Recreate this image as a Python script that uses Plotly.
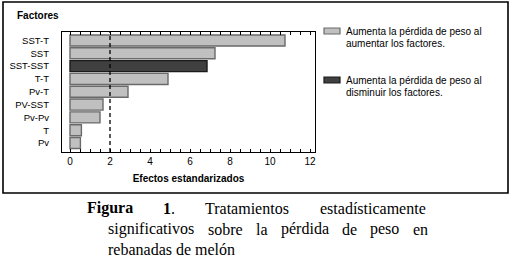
import plotly.graph_objects as go

# ---- data ----
factores = ["SST-T", "SST", "SST-SST", "T-T", "Pv-T", "PV-SST", "Pv-Pv", "T", "Pv"]
efectos = [10.75, 7.25, 6.85, 4.9, 2.9, 1.65, 1.5, 0.57, 0.52]
signo = ["+", "+", "-", "+", "+", "+", "+", "+", "+"]
valor_critico = 2.0
x_ticks = [0, 2, 4, 6, 8, 10, 12]
leyenda_pos = ["Aumenta la pérdida de peso al", "aumentar los factores."]
leyenda_neg = ["Aumenta la pérdida de peso al", "disminuir los factores."]

# ---- layout helpers (pixel positions) ----
W, H = 513, 262
L, R, T, B = 62, 315, 32, 152
PW, PH = R - L, B - T


def px(x):
    return (x - L) / PW


def py(y):
    return (B - y) / PH


LIGHT = "#c0c0c0"
LIGHT_EDGE = "#6a6a6a"
DARK = "#404040"
DARK_EDGE = "#1a1a1a"

fill = [LIGHT if s == "+" else DARK for s in signo]
edge = [LIGHT_EDGE if s == "+" else DARK_EDGE for s in signo]

fig = go.Figure()
fig.add_trace(go.Bar(
    x=efectos, y=factores, orientation="h",
    marker=dict(color=fill, line=dict(color=edge, width=1.4)),
    width=0.86, showlegend=False, hoverinfo="x+y",
))

shapes = []
annotations = []

# critical value dashed line
shapes.append(dict(type="line", xref="x", yref="paper", x0=valor_critico, x1=valor_critico,
                   y0=0, y1=1, line=dict(color="black", width=1.3, dash="4px,3px")))

# outer frame
shapes.append(dict(type="rect", xref="paper", yref="paper",
                   x0=px(3), x1=px(508), y0=py(2), y1=py(193),
                   line=dict(color="black", width=1.6), fillcolor="rgba(0,0,0,0)"))

# legend boxes
for (y0, y1, fc, lc) in [(28, 34, LIGHT, LIGHT_EDGE), (77, 83, DARK, DARK_EDGE)]:
    shapes.append(dict(type="rect", xref="paper", yref="paper",
                       x0=px(324), x1=px(340), y0=py(y1), y1=py(y0),
                       fillcolor=fc, line=dict(color=lc, width=1.2)))

font_sans = "Liberation Sans, Arial, sans-serif"
font_serif = "Liberation Serif, Times New Roman, serif"

for txt, y in [(leyenda_pos[0], 31.5), (leyenda_pos[1], 43.5),
               (leyenda_neg[0], 80.5), (leyenda_neg[1], 92.5)]:
    annotations.append(dict(text=txt, xref="paper", yref="paper", x=px(344), y=py(y),
                            xanchor="left", yanchor="middle", showarrow=False,
                            font=dict(family=font_sans, size=10, color="black")))

# "Factores" label
annotations.append(dict(text="<b>Factores</b>", xref="paper", yref="paper", x=px(15), y=py(15),
                        xanchor="left", yanchor="middle", showarrow=False,
                        font=dict(family=font_sans, size=10, color="black")))

# caption (justified: words placed individually)
caption = [
    (208, [("<b>Figura</b>", 85), ("<b>1</b>.", 161), ("Tratamientos", 203), ("estadísticamente", 317.5)]),
    (229, [("significativos", 106), ("sobre", 205.5), ("la", 253.5), ("pérdida", 278.5), ("de", 340),
           ("peso", 368), ("en", 411)]),
    (249.5, [("rebanadas de melón", 106)]),
]
for y, words in caption:
    for w, x in words:
        annotations.append(dict(text=w, xref="paper", yref="paper", x=px(x), y=py(y),
                                xanchor="left", yanchor="middle", showarrow=False,
                                font=dict(family=font_serif, size=16, color="black")))

fig.update_layout(
    width=W, height=H,
    margin=dict(l=L, r=W - R, t=T, b=H - B, autoexpand=False),
    paper_bgcolor="white", plot_bgcolor="white",
    bargap=0.14,
    shapes=shapes, annotations=annotations,
    font=dict(family=font_sans, color="black"),
    xaxis=dict(
        range=[-0.4, 12.25], tickvals=x_ticks, ticks="inside", ticklen=3, tickwidth=1,
        tickcolor="black", showline=True, linecolor="black", linewidth=1.2, mirror="ticks",
        showgrid=False, zeroline=False, tickfont=dict(size=10, family=font_sans),
        minor=dict(dtick=0.5, ticks="inside", ticklen=3, tickcolor="black", showgrid=False),
        title=dict(text="<b>Efectos estandarizados</b>", font=dict(size=10, family=font_sans),
                   standoff=8),
        automargin=False,
    ),
    yaxis=dict(
        categoryorder="array", categoryarray=factores, range=[8.7, -0.66],
        showline=True, linecolor="black", linewidth=1.2, mirror=True, ticks="",
        showgrid=False, zeroline=False, tickfont=dict(size=9.5, family=font_sans),
        ticklabelstandoff=10, automargin=False,
    ),
)

fig.write_html(
    "out.html",
    config={"responsive": False, "displayModeBar": False},
    post_script="document.body.style.margin='0';document.body.style.overflow='hidden';",
)
